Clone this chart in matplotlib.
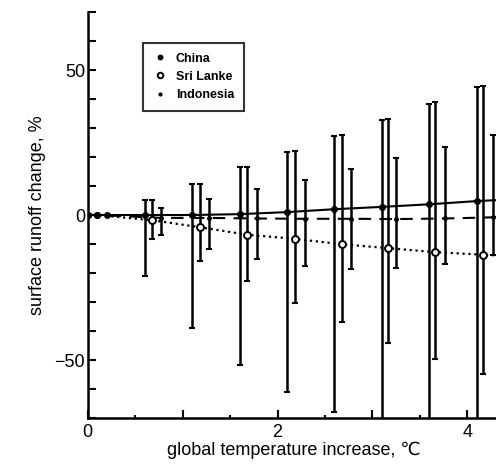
import numpy as np
import matplotlib
matplotlib.use("Agg")
import matplotlib.pyplot as plt
from matplotlib.ticker import MultipleLocator, FuncFormatter

plt.rcParams['font.family'] = ['Liberation Sans', 'DejaVu Sans']

# warming steps (deg C) for each region, offset a little so the bars don't overlap
x_china = [0.0, 0.1, 0.2, 0.6, 1.1, 1.6, 2.1, 2.6, 3.1, 3.6, 4.1]
x_srilanka = [0.0, 0.1, 0.68, 1.18, 1.68, 2.18, 2.68, 3.16, 3.66, 4.17]
x_indonesia = [0.0, 0.1, 0.77, 1.28, 1.78, 2.29, 2.77, 3.25, 3.77, 4.27]

china = [0, 0, 0, 0, 0, 0.3, 1.0, 2.0, 2.8, 3.7, 4.8]
srilanka = [0, 0, -1.8, -4.2, -6.8, -8.2, -10.1, -11.4, -12.8, -13.7]
indonesia = [0, 0, -1.0, -1.0, -1.2, -1.3, -1.3, -1.4, -1.2, -0.8]

# error bar ends (upper, lower) for the points that have them
china_hi = [5.3, 10.8, 16.4, 21.6, 27.2, 32.8, 38.3, 44.3]
china_lo = [-20.9, -38.8, -51.8, -61.2, -67.9, -80, -90, -100]
srilanka_hi = [5.3, 10.8, 16.6, 22.0, 27.6, 33.1, 38.9, 44.6]
srilanka_lo = [-8.2, -15.7, -22.6, -30.3, -37.0, -44.2, -49.7, -54.9]
indonesia_hi = [2.4, 5.6, 8.8, 12.2, 15.7, 19.5, 23.5, 27.6]
indonesia_lo = [-7.0, -11.7, -15.3, -17.6, -18.6, -18.3, -16.8, -13.8]

# lines keep going past the right edge of the frame
tail_x = 4.6
china_tail = 5.6
srilanka_tail = -14.3
indonesia_tail = -0.5

fig = plt.figure(figsize=(4.96, 4.71), dpi=100)
ax = fig.add_axes([0.177, 0.1125, 0.83, 0.862])

ax.plot(x_china + [tail_x], china + [china_tail], '-', color='black', lw=1.5)
ax.plot(x_srilanka + [tail_x], srilanka + [srilanka_tail], ':', color='black', lw=1.6)
ax.plot(x_indonesia + [tail_x], indonesia + [indonesia_tail], '--', color='black', lw=1.5,
        dashes=(6, 4))

def bars(xs, ys, hi, lo, n):
    xs = np.array(xs[-n:])
    ys = np.array(ys[-n:])
    yerr = [ys - np.array(lo), np.array(hi) - ys]
    ax.errorbar(xs, ys, yerr=yerr, fmt='none', ecolor='black', elinewidth=1.8,
                capsize=2.2, capthick=1.5)

bars(x_china, china, china_hi, china_lo, 8)
bars(x_srilanka, srilanka, srilanka_hi, srilanka_lo, 8)
bars(x_indonesia, indonesia, indonesia_hi, indonesia_lo, 8)

h1, = ax.plot(x_china, china, 'o', color='black', ms=4, ls='none', label='China')
h2, = ax.plot(x_srilanka[2:], srilanka[2:], 'o', mfc='white', mec='black', mew=1.4, ms=5,
              ls='none', label='Sri Lanke')
ax.plot(x_srilanka[:2], srilanka[:2], 'o', color='black', ms=4, ls='none')
h3, = ax.plot(x_indonesia, indonesia, 'o', color='black', ms=2.5, ls='none',
              label='Indonesia')

ax.set_xlim(0, 4.34)
ax.set_ylim(-70, 70)
ax.xaxis.set_major_locator(MultipleLocator(1))
ax.xaxis.set_minor_locator(MultipleLocator(0.5))
ax.xaxis.set_major_formatter(FuncFormatter(lambda v, p: '%d' % v if int(round(v)) % 2 == 0 else ''))
ax.yaxis.set_major_locator(MultipleLocator(50))
ax.yaxis.set_minor_locator(MultipleLocator(10))
ax.tick_params(which='both', direction='in', width=1.5, labelsize=13, pad=2)
ax.tick_params(axis='y', which='both', length=6)
ax.tick_params(axis='x', which='major', length=6, pad=4)
ax.tick_params(axis='x', which='minor', length=2.5)
ax.spines['top'].set_visible(False)
ax.spines['right'].set_visible(False)
ax.spines['left'].set_linewidth(1.8)
ax.spines['bottom'].set_linewidth(1.8)

ax.set_xlabel('global temperature increase, \u2103', fontsize=13, labelpad=1)
ax.set_ylabel('surface runoff change, %', fontsize=13, labelpad=6)

leg = ax.legend(handles=[h1, h2, h3], loc='upper left', bbox_to_anchor=(0.12, 0.94),
                fontsize=9, frameon=True, fancybox=False, edgecolor='black',
                handlelength=1.0, handletextpad=0.8, borderpad=0.8, labelspacing=0.5,
                markerscale=0.8)
leg.get_frame().set_linewidth(1.5)
for t in leg.get_texts():
    t.set_fontweight('bold')

fig.savefig('out.png', dpi=100)
